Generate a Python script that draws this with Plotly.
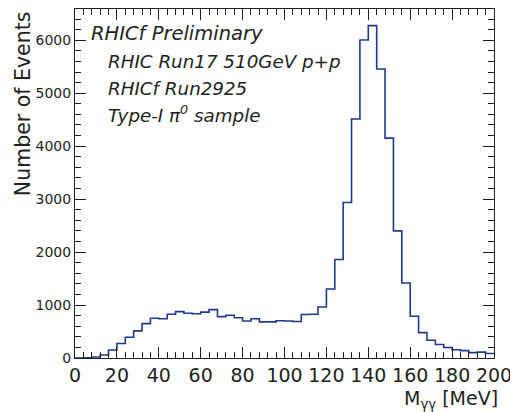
import plotly.graph_objects as go

# ---- data ----
bin_low = 0.0      # MeV
bin_width = 4.0    # MeV
counts = [
    0, 6, 19, 57, 151, 274, 391, 513, 649, 750,
    742, 825, 876, 846, 835, 866, 914, 781, 806, 759,
    699, 741, 683, 683, 702, 700, 690, 820, 825, 964,
    1304, 1860, 2936, 4512, 6005, 6276, 5457, 4152, 2401, 1415,
    788, 479, 334, 255, 198, 157, 139, 101, 110, 85,
]
x_ticks = [0, 20, 40, 60, 80, 100, 120, 140, 160, 180, 200]
y_ticks = [0, 1000, 2000, 3000, 4000, 5000, 6000]
info_lines = [
    "RHIC Run17 510GeV p+p",
    "RHICf Run2925",
    "Type-I π<sup>0</sup> sample",
]

edges = [bin_low + i * bin_width for i in range(len(counts) + 1)]
step_y = counts + [counts[-1]]

FONT = "DejaVu Sans"
INK = "#231f20"
LINE = "#1f3a8c"

fig = go.Figure()
fig.add_trace(go.Scatter(
    x=edges, y=step_y, mode="lines",
    line=dict(shape="hv", color=LINE, width=1.6),
    hoverinfo="skip", showlegend=False,
))

axis_common = dict(
    ticks="inside", ticklen=11, tickwidth=1, tickcolor=INK,
    showline=True, linecolor=INK, linewidth=1, mirror="ticks",
    showgrid=False, zeroline=False,
)

# page body adds an 8 px offset, so the figure is 8 px smaller on each axis
fig.update_layout(
    width=510, height=404,
    margin=dict(l=67, r=24, t=1, b=54),
    paper_bgcolor="white", plot_bgcolor="white",
    font=dict(family=FONT, color=INK),
    xaxis=dict(
        range=[0, 200], tickvals=x_ticks,
        tickfont=dict(family=FONT, size=19, color=INK),
        minor=dict(ticks="inside", dtick=4, ticklen=6, tickcolor=INK, showgrid=False),
        **axis_common,
    ),
    yaxis=dict(
        range=[0, 6590], tickvals=y_ticks,
        tickfont=dict(family=FONT, size=14, color=INK),
        minor=dict(ticks="inside", dtick=200, ticklen=6, tickcolor=INK, showgrid=False),
        **axis_common,
    ),
)

annotations = []
# axis titles
annotations.append(dict(
    text="M<sub>γγ</sub> [MeV]", xref="paper", yref="paper",
    x=1.015, y=-0.076, xanchor="right", yanchor="top", showarrow=False,
    font=dict(family=FONT, size=19, color=INK),
))
annotations.append(dict(
    text="Number of Events", xref="paper", yref="paper",
    x=-0.125, y=1.0, xanchor="center", yanchor="top", textangle=-90,
    showarrow=False, font=dict(family=FONT, size=20.5, color=INK),
))
# header text
annotations.append(dict(
    text="<i>RHICf Preliminary</i>", xref="paper", yref="paper",
    x=0.034, y=0.931, xanchor="left", yanchor="middle", showarrow=False,
    font=dict(family=FONT, size=19.5, color=INK),
))
line_y = [0.849, 0.772, 0.698]
for txt, yy in zip(info_lines, line_y):
    annotations.append(dict(
        text="<i>" + txt + "</i>", xref="paper", yref="paper",
        x=0.073, y=yy, xanchor="left", yanchor="middle", showarrow=False,
        font=dict(family=FONT, size=18.3, color=INK),
    ))
fig.update_layout(annotations=annotations)

fig.write_html("out.html")
